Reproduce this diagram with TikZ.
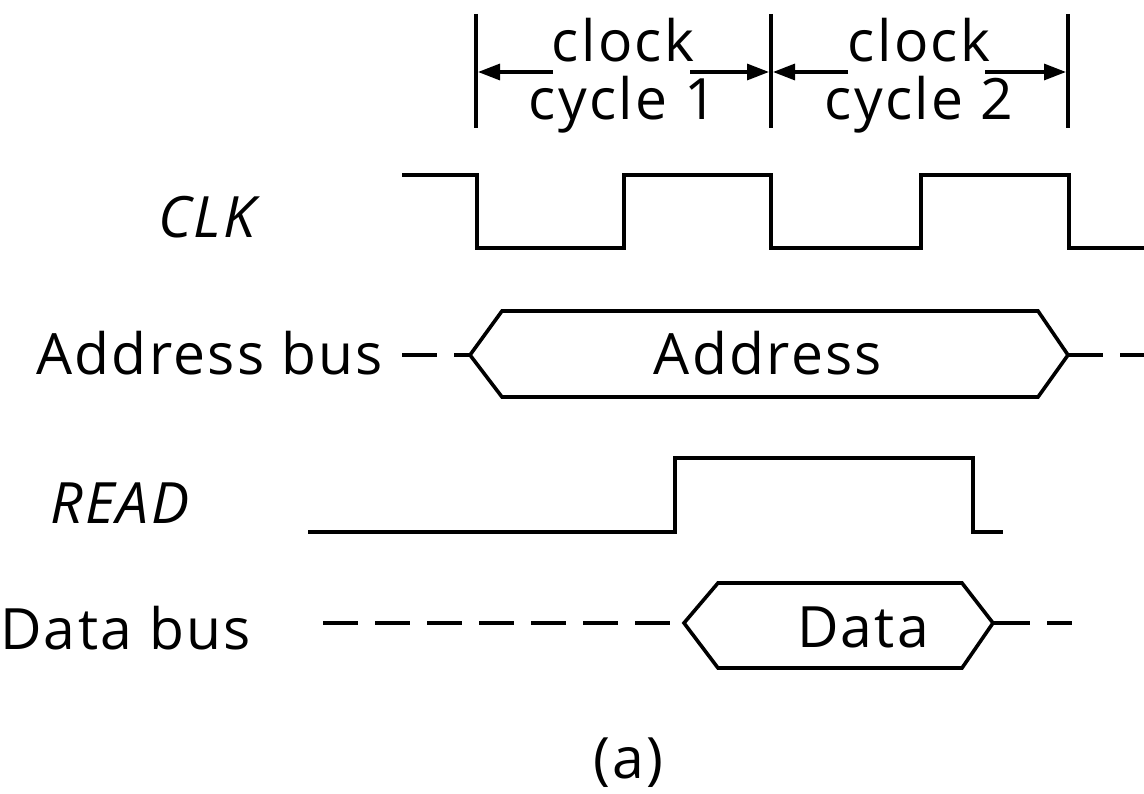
\documentclass[tikz,border=0pt]{standalone}
\usepackage{fontspec}
\setmainfont[LetterSpace=4]{Open Sans}
\usetikzlibrary{arrows.meta}
\begin{document}
\begin{tikzpicture}[x=1pt,y=-1pt,
  sig/.style={line width=3.6pt, line join=miter},
  dsh/.style={line width=3.6pt, dash pattern=on 35pt off 17pt},
  lbl/.style={font=\fontsize{57}{60}\selectfont, inner sep=0pt},
  dimarrow/.style={-{Triangle[length=22pt,width=16pt]}, line width=3.2pt},
  tick/.style={line width=3.2pt}]
\useasboundingbox (0,0) rectangle (1144,794);

% clock cycle dimension marks
\coordinate (t0a) at (476,14); \coordinate (t0b) at (476,128);
\coordinate (t1a) at (771,14); \coordinate (t1b) at (771,128);
\coordinate (t2a) at (1068,14); \coordinate (t2b) at (1068,128);
\draw[tick] (t0a) -- (t0b);
\draw[tick] (t1a) -- (t1b);
\draw[tick] (t2a) -- (t2b);
\node[lbl, anchor=base] (c1a) at (623,62) {clock};
\node[lbl, anchor=base] (c1b) at (623,120) {cycle 1};
\node[lbl, anchor=base] (c2a) at (919,62) {clock};
\node[lbl, anchor=base] (c2b) at (919,120) {cycle 2};
\coordinate (a1s) at (553,72); \coordinate (a1e) at (478,72);
\coordinate (a2s) at (690,72); \coordinate (a2e) at (769,72);
\coordinate (a3s) at (848,72); \coordinate (a3e) at (773,72);
\coordinate (a4s) at (985,72); \coordinate (a4e) at (1066,72);
\draw[dimarrow] (a1s) -- (a1e);
\draw[dimarrow] (a2s) -- (a2e);
\draw[dimarrow] (a3s) -- (a3e);
\draw[dimarrow] (a4s) -- (a4e);

% signal labels
\node[lbl, anchor=base west, font=\fontsize{57}{60}\selectfont\itshape] (clk) at (158,238) {CLK};
\node[lbl, anchor=base west] (addr) at (36,375) {Address bus};
\node[lbl, anchor=base west, font=\fontsize{57}{60}\selectfont\itshape] (rd) at (50,523) {READ};
\node[lbl, anchor=base west] (data) at (0,649) {Data bus};

% CLK waveform
\draw[sig] (402,175) -- (477,175) -- (477,248) -- (624,248) -- (624,175) -- (771,175)
  -- (771,248) -- (921,248) -- (921,175) -- (1069,175) -- (1069,248) -- (1144,248);

% Address bus
\coordinate (abL) at (470,355);
\coordinate (abR) at (1068,355);
\draw[dsh] (402,355) -- (abL);
\draw[sig] (abL) -- (502,311) -- (1038,311) -- (abR) -- (1038,397) -- (502,397) -- cycle;
\draw[dsh] (abR) -- (1144,355);
\node[lbl, anchor=base] (addrtxt) at (768,375) {Address};

% READ waveform
\draw[sig] (308,532) -- (675,532) -- (675,458) -- (973,458) -- (973,532) -- (1003,532);

% Data bus
\coordinate (dbL) at (684,623);
\coordinate (dbR) at (993,623);
\draw[dsh] (323,623) -- (670,623);
\draw[sig] (dbL) -- (718,583) -- (962,583) -- (dbR) -- (962,668) -- (718,668) -- cycle;
\draw[sig, dash pattern=on 37pt off 17pt] (dbR) -- (1072,623);
\node[lbl, anchor=base] (datatxt) at (863,647) {Data};

% caption
\node[lbl, anchor=base] (cap) at (628,778) {(a)};
\end{tikzpicture}
\end{document}
